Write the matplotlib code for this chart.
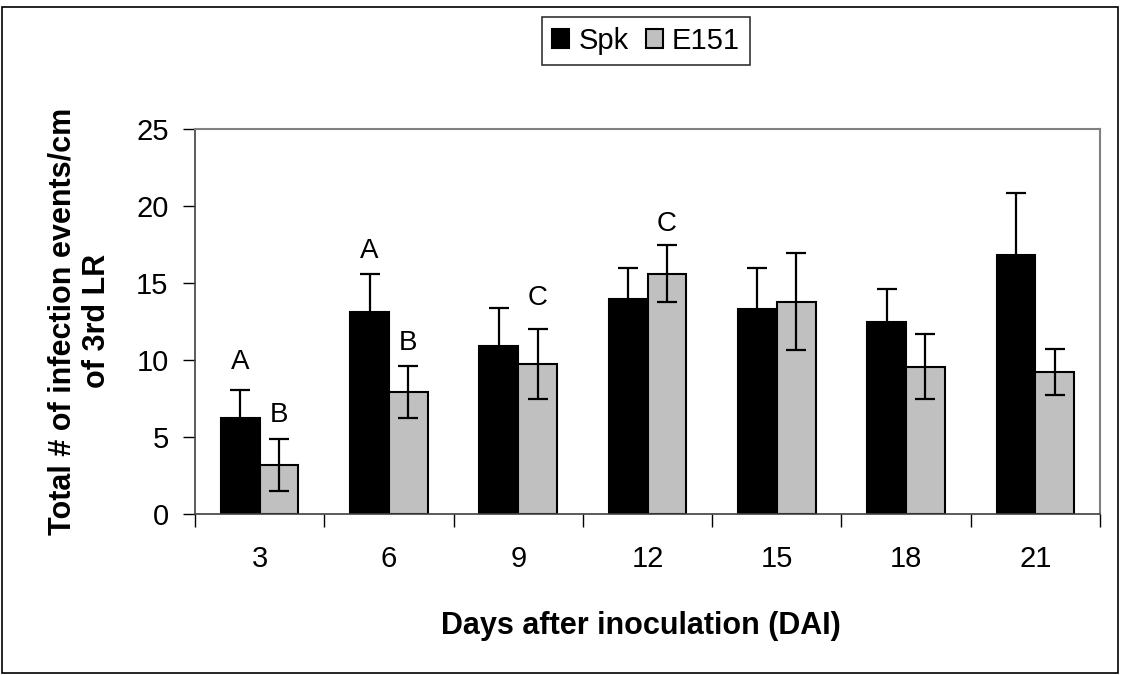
import matplotlib
matplotlib.use("Agg")
import matplotlib.pyplot as plt
from matplotlib.patches import Rectangle
import numpy as np

plt.rcParams['font.family'] = ['Liberation Sans', 'DejaVu Sans']

days = ["3", "6", "9", "12", "15", "18", "21"]
spk = [6.25, 13.1, 10.94, 13.98, 13.28, 12.5, 16.8]
spk_err = [1.82, 2.5, 2.45, 1.97, 2.67, 2.13, 4.03]
e151 = [3.19, 7.92, 9.74, 15.6, 13.78, 9.57, 9.22]
e151_err = [1.69, 1.68, 2.27, 1.85, 3.15, 2.1, 1.5]
# significance letters: (category index, series, letter, y position)
letters = [(0, "spk", "A", 9.9), (0, "e151", "B", 6.45),
           (1, "spk", "A", 17.05), (1, "e151", "B", 11.1),
           (2, "e151", "C", 14.05), (3, "e151", "C", 18.8)]

W, H = 1121, 675
fig = plt.figure(figsize=(W / 100, H / 100), dpi=100)
ax = fig.add_axes([195 / W, 1 - 514 / H, (1100 - 195) / W, (514 - 129) / H])

x = np.arange(len(days))
bw = 0.3
ekw = dict(ecolor='black', elinewidth=1.6, capsize=7, capthick=1.6)
b1 = ax.bar(x - bw / 2, spk, bw, color='black', edgecolor='black', linewidth=1.5,
            label='Spk', zorder=2)
b2 = ax.bar(x + bw / 2, e151, bw, color='#C0C0C0', edgecolor='black', linewidth=1.5,
            label='E151', zorder=2)
ax.errorbar(x - bw / 2, spk, yerr=spk_err, fmt='none', zorder=3, **ekw)
ax.errorbar(x + bw / 2, e151, yerr=e151_err, fmt='none', zorder=3, **ekw)

for i, s, lab, yy in letters:
    xx = x[i] - bw / 2 if s == "spk" else x[i] + bw / 2
    ax.text(xx, yy, lab, ha='center', va='center', fontsize=20)

ax.set_xlim(-0.5, len(days) - 0.5)
ax.set_ylim(0, 25)
ax.set_yticks(np.arange(0, 26, 5))
ax.tick_params(axis='y', direction='out', length=9, width=1, pad=10, labelsize=21)
ax.set_xticks(np.arange(-0.5, len(days), 1.0))
ax.set_xticklabels([])
ax.set_xticks(x, minor=True)
ax.set_xticklabels(days, minor=True)
ax.tick_params(axis='x', which='major', direction='out', length=9, width=1)
ax.tick_params(axis='x', which='minor', length=0, pad=22, labelsize=21)

for sp in ['top', 'right']:
    ax.spines[sp].set_color('#808080')
    ax.spines[sp].set_linewidth(1.5)
for sp in ['left', 'bottom']:
    ax.spines[sp].set_color('#404040')
    ax.spines[sp].set_linewidth(1.2)

leg = fig.legend(handles=[b1, b2], labels=['Spk', 'E151'], loc='center',
                 bbox_to_anchor=(646 / W, 1 - 41 / H), ncol=2, fontsize=21,
                 frameon=True, fancybox=False, handlelength=0.6, handleheight=0.6,
                 handletextpad=0.3, columnspacing=0.6, borderpad=0.35)
leg.get_frame().set_edgecolor('black')
leg.get_frame().set_linewidth(1.2)

fig.text(63 / W, 1 - 321 / H, "Total # of infection events/cm",
         rotation=90, ha='center', va='center', fontsize=22, fontweight='bold')
fig.text(97 / W, 1 - 321 / H, "of 3rd LR",
         rotation=90, ha='center', va='center', fontsize=22, fontweight='bold')
fig.text(641 / W, 1 - 626 / H, "Days after inoculation (DAI)",
         ha='center', va='center', fontsize=22, fontweight='bold')

fig.patches.append(Rectangle((2 / W, 2 / H), (W - 5) / W, (H - 9) / H,
                             transform=fig.transFigure, fill=False,
                             edgecolor='black', linewidth=1.2))

fig.savefig("out.png", dpi=100)
